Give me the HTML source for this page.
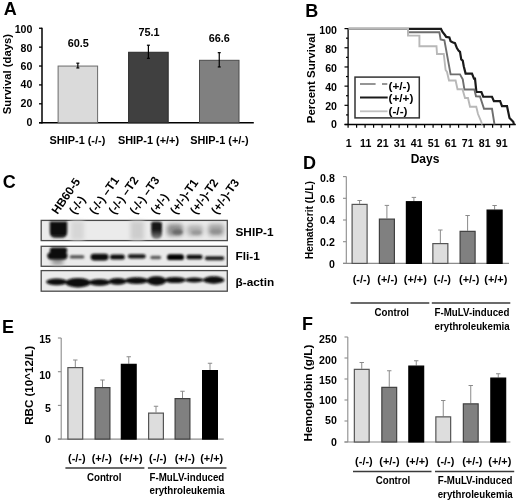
<!DOCTYPE html><html><head><meta charset="utf-8"><style>html,body{margin:0;padding:0;background:#fff;overflow:hidden;}svg{display:block;filter:blur(0.3px);}text{font-family:"Liberation Sans", sans-serif;}</style></head><body>
<svg width="520" height="504" viewBox="0 0 520 504">
<defs><filter id="b1" x="-50%" y="-50%" width="200%" height="200%"><feGaussianBlur stdDeviation="1.2"/></filter><filter id="b2" x="-50%" y="-50%" width="200%" height="200%"><feGaussianBlur stdDeviation="2.2"/></filter><filter id="b0" x="-50%" y="-50%" width="200%" height="200%"><feGaussianBlur stdDeviation="0.8"/></filter><linearGradient id="g6" x1="0" y1="0" x2="0" y2="1"><stop offset="0" stop-color="#101010"/><stop offset="0.5" stop-color="#1c1c1c"/><stop offset="1" stop-color="#8a8a8a"/></linearGradient><linearGradient id="g1" x1="0" y1="0" x2="0" y2="1"><stop offset="0" stop-color="#080808"/><stop offset="0.75" stop-color="#0a0a0a"/><stop offset="1" stop-color="#333"/></linearGradient></defs>
<rect width="520" height="504" fill="#fff"/>
<text x="3.80" y="14.70" font-size="18" text-anchor="start" font-weight="bold" fill="#000">A</text>
<line x1="42.00" y1="27.75" x2="42.00" y2="123.40" stroke="#000" stroke-width="1.5"/>
<line x1="39.00" y1="122.70" x2="253.80" y2="122.70" stroke="#000" stroke-width="1.5"/>
<line x1="39.00" y1="122.70" x2="42.00" y2="122.70" stroke="#000" stroke-width="1.3"/>
<text x="32.40" y="126.10" font-size="10.6" text-anchor="end" font-weight="bold" fill="#000">0</text>
<line x1="39.00" y1="103.81" x2="42.00" y2="103.81" stroke="#000" stroke-width="1.3"/>
<text x="32.40" y="107.20" font-size="10.6" text-anchor="end" font-weight="bold" fill="#000">20</text>
<line x1="39.00" y1="84.92" x2="42.00" y2="84.92" stroke="#000" stroke-width="1.3"/>
<text x="32.40" y="88.30" font-size="10.6" text-anchor="end" font-weight="bold" fill="#000">40</text>
<line x1="39.00" y1="66.03" x2="42.00" y2="66.03" stroke="#000" stroke-width="1.3"/>
<text x="32.40" y="69.70" font-size="10.6" text-anchor="end" font-weight="bold" fill="#000">60</text>
<line x1="39.00" y1="47.14" x2="42.00" y2="47.14" stroke="#000" stroke-width="1.3"/>
<text x="32.40" y="51.60" font-size="10.6" text-anchor="end" font-weight="bold" fill="#000">80</text>
<line x1="39.00" y1="28.25" x2="42.00" y2="28.25" stroke="#000" stroke-width="1.3"/>
<text x="32.40" y="32.80" font-size="10.6" text-anchor="end" font-weight="bold" fill="#000">100</text>
<rect x="58.10" y="66.06" width="39.50" height="56.64" fill="#dadada" stroke="#6a6a6a" stroke-width="1"/>
<line x1="77.85" y1="63.18" x2="77.85" y2="67.94" stroke="#000" stroke-width="1.2"/>
<line x1="76.35" y1="63.18" x2="79.35" y2="63.18" stroke="#000" stroke-width="1.2"/>
<line x1="76.35" y1="67.94" x2="79.35" y2="67.94" stroke="#000" stroke-width="1.2"/>
<rect x="128.60" y="52.27" width="39.60" height="70.43" fill="#404040" stroke="#2a2a2a" stroke-width="1"/>
<line x1="148.40" y1="45.22" x2="148.40" y2="58.31" stroke="#000" stroke-width="1.2"/>
<line x1="146.90" y1="45.22" x2="149.90" y2="45.22" stroke="#000" stroke-width="1.2"/>
<line x1="146.90" y1="58.31" x2="149.90" y2="58.31" stroke="#000" stroke-width="1.2"/>
<rect x="199.50" y="60.30" width="39.50" height="62.40" fill="#808080" stroke="#4a4a4a" stroke-width="1"/>
<line x1="219.25" y1="52.66" x2="219.25" y2="66.94" stroke="#000" stroke-width="1.2"/>
<line x1="217.75" y1="52.66" x2="220.75" y2="52.66" stroke="#000" stroke-width="1.2"/>
<line x1="217.75" y1="66.94" x2="220.75" y2="66.94" stroke="#000" stroke-width="1.2"/>
<text x="78.30" y="47.40" font-size="10.9" text-anchor="middle" font-weight="bold" fill="#000">60.5</text>
<text x="149.00" y="36.00" font-size="10.9" text-anchor="middle" font-weight="bold" fill="#000">75.1</text>
<text x="219.30" y="41.60" font-size="10.9" text-anchor="middle" font-weight="bold" fill="#000">66.6</text>
<text x="77.45" y="143.60" font-size="10.9" text-anchor="middle" font-weight="bold" fill="#000">SHIP-1 (-/-)</text>
<text x="148.50" y="143.60" font-size="10.9" text-anchor="middle" font-weight="bold" fill="#000">SHIP-1 (+/+)</text>
<text x="219.40" y="143.60" font-size="10.9" text-anchor="middle" font-weight="bold" fill="#000">SHIP-1 (+/-)</text>
<text x="0" y="0" font-size="11.3" text-anchor="middle" font-weight="bold" fill="#000" transform="translate(10.80 74.10) rotate(-90)">Survival (days)</text>
<text x="305.30" y="16.70" font-size="18" text-anchor="start" font-weight="bold" fill="#000">B</text>
<line x1="348.10" y1="28.10" x2="348.10" y2="125.10" stroke="#000" stroke-width="1.3"/>
<line x1="344.60" y1="124.50" x2="515.80" y2="124.50" stroke="#000" stroke-width="1.3"/>
<line x1="344.50" y1="124.50" x2="348.10" y2="124.50" stroke="#000" stroke-width="1.2"/>
<text x="337.00" y="128.00" font-size="10.6" text-anchor="end" font-weight="bold" fill="#000">0</text>
<line x1="346.00" y1="114.91" x2="348.10" y2="114.91" stroke="#000" stroke-width="1.2"/>
<line x1="344.50" y1="105.32" x2="348.10" y2="105.32" stroke="#000" stroke-width="1.2"/>
<text x="337.00" y="110.20" font-size="10.6" text-anchor="end" font-weight="bold" fill="#000">20</text>
<line x1="346.00" y1="95.73" x2="348.10" y2="95.73" stroke="#000" stroke-width="1.2"/>
<line x1="344.50" y1="86.14" x2="348.10" y2="86.14" stroke="#000" stroke-width="1.2"/>
<text x="337.00" y="90.90" font-size="10.6" text-anchor="end" font-weight="bold" fill="#000">40</text>
<line x1="346.00" y1="76.55" x2="348.10" y2="76.55" stroke="#000" stroke-width="1.2"/>
<line x1="344.50" y1="66.96" x2="348.10" y2="66.96" stroke="#000" stroke-width="1.2"/>
<text x="337.00" y="71.80" font-size="10.6" text-anchor="end" font-weight="bold" fill="#000">60</text>
<line x1="346.00" y1="57.37" x2="348.10" y2="57.37" stroke="#000" stroke-width="1.2"/>
<line x1="344.50" y1="47.78" x2="348.10" y2="47.78" stroke="#000" stroke-width="1.2"/>
<text x="337.00" y="52.50" font-size="10.6" text-anchor="end" font-weight="bold" fill="#000">80</text>
<line x1="346.00" y1="38.19" x2="348.10" y2="38.19" stroke="#000" stroke-width="1.2"/>
<line x1="344.50" y1="28.60" x2="348.10" y2="28.60" stroke="#000" stroke-width="1.2"/>
<text x="337.00" y="33.60" font-size="10.6" text-anchor="end" font-weight="bold" fill="#000">100</text>
<line x1="348.10" y1="124.50" x2="348.10" y2="127.70" stroke="#000" stroke-width="1.2"/>
<line x1="356.60" y1="124.50" x2="356.60" y2="127.70" stroke="#000" stroke-width="1.2"/>
<line x1="365.10" y1="124.50" x2="365.10" y2="127.70" stroke="#000" stroke-width="1.2"/>
<line x1="373.60" y1="124.50" x2="373.60" y2="127.70" stroke="#000" stroke-width="1.2"/>
<line x1="382.10" y1="124.50" x2="382.10" y2="127.70" stroke="#000" stroke-width="1.2"/>
<line x1="390.60" y1="124.50" x2="390.60" y2="127.70" stroke="#000" stroke-width="1.2"/>
<line x1="399.10" y1="124.50" x2="399.10" y2="127.70" stroke="#000" stroke-width="1.2"/>
<line x1="407.60" y1="124.50" x2="407.60" y2="127.70" stroke="#000" stroke-width="1.2"/>
<line x1="416.10" y1="124.50" x2="416.10" y2="127.70" stroke="#000" stroke-width="1.2"/>
<line x1="424.60" y1="124.50" x2="424.60" y2="127.70" stroke="#000" stroke-width="1.2"/>
<line x1="433.10" y1="124.50" x2="433.10" y2="127.70" stroke="#000" stroke-width="1.2"/>
<line x1="441.60" y1="124.50" x2="441.60" y2="127.70" stroke="#000" stroke-width="1.2"/>
<line x1="450.10" y1="124.50" x2="450.10" y2="127.70" stroke="#000" stroke-width="1.2"/>
<line x1="458.60" y1="124.50" x2="458.60" y2="127.70" stroke="#000" stroke-width="1.2"/>
<line x1="467.10" y1="124.50" x2="467.10" y2="127.70" stroke="#000" stroke-width="1.2"/>
<line x1="475.60" y1="124.50" x2="475.60" y2="127.70" stroke="#000" stroke-width="1.2"/>
<line x1="484.10" y1="124.50" x2="484.10" y2="127.70" stroke="#000" stroke-width="1.2"/>
<line x1="492.60" y1="124.50" x2="492.60" y2="127.70" stroke="#000" stroke-width="1.2"/>
<line x1="501.10" y1="124.50" x2="501.10" y2="127.70" stroke="#000" stroke-width="1.2"/>
<line x1="509.60" y1="124.50" x2="509.60" y2="127.70" stroke="#000" stroke-width="1.2"/>
<text x="348.70" y="147.00" font-size="10.6" text-anchor="middle" font-weight="bold" fill="#000">1</text>
<text x="365.70" y="147.00" font-size="10.6" text-anchor="middle" font-weight="bold" fill="#000">11</text>
<text x="382.70" y="147.00" font-size="10.6" text-anchor="middle" font-weight="bold" fill="#000">21</text>
<text x="399.70" y="147.00" font-size="10.6" text-anchor="middle" font-weight="bold" fill="#000">31</text>
<text x="416.70" y="147.00" font-size="10.6" text-anchor="middle" font-weight="bold" fill="#000">41</text>
<text x="433.70" y="147.00" font-size="10.6" text-anchor="middle" font-weight="bold" fill="#000">51</text>
<text x="450.70" y="147.00" font-size="10.6" text-anchor="middle" font-weight="bold" fill="#000">61</text>
<text x="467.70" y="147.00" font-size="10.6" text-anchor="middle" font-weight="bold" fill="#000">71</text>
<text x="484.70" y="147.00" font-size="10.6" text-anchor="middle" font-weight="bold" fill="#000">81</text>
<text x="501.70" y="147.00" font-size="10.6" text-anchor="middle" font-weight="bold" fill="#000">91</text>
<text x="425.00" y="162.80" font-size="12.0" text-anchor="middle" font-weight="bold" fill="#000">Days</text>
<text x="0" y="0" font-size="11.5" text-anchor="middle" font-weight="bold" fill="#000" transform="translate(315.00 78.20) rotate(-90)">Percent Survival</text>
<polyline points="348.60,28.90 441.00,28.90 442.50,31.90 444.75,34.75 446.25,36.90 449.40,37.50 450.60,41.25 452.50,42.25 455.00,43.10 456.90,48.10 458.50,50.60 460.00,51.90 461.25,59.40 462.75,60.60 463.75,66.25 465.60,73.60 472.00,73.60 474.00,78.60 475.00,78.60 476.40,92.00 481.40,92.00 483.25,96.75 492.00,96.75 493.90,101.10 500.10,101.10 502.00,106.10 507.00,106.10 509.50,118.00 513.25,121.75 514.00,124.50" fill="none" stroke="#1a1a1a" stroke-width="2.2" stroke-linejoin="miter"/>
<polyline points="348.60,28.90 408.00,28.90 408.00,32.25 439.40,32.25 440.60,39.40 444.40,40.25 450.60,74.40 460.00,74.40 462.75,79.25 464.40,89.50 474.40,89.50 476.00,96.25 480.00,96.50 484.00,108.80 492.00,108.80 494.50,124.50" fill="none" stroke="#6e6e6e" stroke-width="1.9" stroke-linejoin="miter"/>
<polyline points="348.60,28.90 408.00,28.90 408.00,35.60 419.40,35.60 419.40,46.25 436.50,46.25 437.00,54.00 443.75,54.00 445.60,70.00 447.00,72.00 449.00,80.50 455.60,80.50 457.50,89.25 462.50,89.25 465.00,98.00 468.00,98.00 470.00,106.75 476.25,106.75 478.00,114.00 481.25,121.75 482.00,124.50" fill="none" stroke="#b8b8b8" stroke-width="1.9" stroke-linejoin="miter"/>
<rect x="355.00" y="77.10" width="64.30" height="40.80" fill="#fff" stroke="#333" stroke-width="1.5"/>
<line x1="360.00" y1="84.00" x2="375.60" y2="84.00" stroke="#8a8a8a" stroke-width="1.8"/>
<line x1="382.00" y1="84.00" x2="387.30" y2="84.00" stroke="#8a8a8a" stroke-width="1.8"/>
<line x1="360.00" y1="97.50" x2="387.70" y2="97.50" stroke="#1a1a1a" stroke-width="2.0"/>
<line x1="360.00" y1="111.30" x2="387.50" y2="111.30" stroke="#c0c0c0" stroke-width="1.8"/>
<text x="388.50" y="89.50" font-size="11.8" text-anchor="start" font-weight="bold" fill="#000">(+/-)</text>
<text x="388.50" y="101.60" font-size="11.8" text-anchor="start" font-weight="bold" fill="#000">(+/+)</text>
<text x="388.50" y="115.20" font-size="11.8" text-anchor="start" font-weight="bold" fill="#000">(-/-)</text>
<text x="2.70" y="187.60" font-size="18" text-anchor="start" font-weight="bold" fill="#000">C</text>
<rect x="41.20" y="220.40" width="186.10" height="20.20" fill="#ebebeb" stroke="#4a4a4a" stroke-width="1.3"/>
<rect x="41.20" y="246.30" width="186.10" height="20.00" fill="#ebebeb" stroke="#4a4a4a" stroke-width="1.3"/>
<rect x="41.20" y="270.60" width="186.10" height="20.60" fill="#ebebeb" stroke="#4a4a4a" stroke-width="1.3"/>
<g filter="url(#b2)">
<rect x="71" y="221" width="13" height="19" fill="#d6d6d6"/>
<rect x="130.5" y="221" width="13.5" height="19" fill="#cdcdcd"/>
<rect x="167" y="224" width="16" height="12" rx="4" fill="#8e8e8e"/>
<rect x="187" y="225" width="16" height="11" rx="4" fill="#b2b2b2"/>
<rect x="208" y="224" width="16" height="12" rx="4" fill="#a6a6a6"/>
</g>
<g filter="url(#b1)">
<ellipse cx="177.5" cy="232" rx="5" ry="2.6" fill="#6a6a6a"/>
<ellipse cx="196.5" cy="232.5" rx="5" ry="2.2" fill="#979797"/>
<ellipse cx="216" cy="231.5" rx="5.5" ry="2.6" fill="#909090"/>
</g>
<g filter="url(#b0)">
<path d="M49.8,221.4 H67.2 V232 Q67.2,238 61,238 H56 Q49.8,238 49.8,232 Z" fill="url(#g1)"/>
<path d="M151.2,223 Q151.2,221.8 155,221.8 H158.5 Q162,221.8 162,224 V233 Q162,239 156.5,239 Q151.2,239 151.2,233 Z" fill="url(#g6)"/>
</g>
<g filter="url(#b2)"><rect x="52" y="256" width="11" height="9" fill="#9a9a9a"/></g>
<g filter="url(#b0)">
<rect x="49.80" y="247.60" width="17.40" height="5.60" rx="2.80" fill="#0a0a0a"/>
<rect x="47.30" y="252.20" width="20.20" height="7.20" rx="3.60" fill="#0a0a0a"/>
<rect x="69.70" y="255.20" width="14.70" height="3.40" rx="1.70" fill="#505050"/>
<rect x="90.60" y="253.80" width="17.90" height="6.60" rx="3.30" fill="#080808"/>
<rect x="110.00" y="254.50" width="14.80" height="5.00" rx="2.50" fill="#111"/>
<rect x="127.90" y="254.20" width="17.80" height="4.30" rx="2.15" fill="#141414"/>
<rect x="150.30" y="255.80" width="10.80" height="3.40" rx="1.70" fill="#5a5a5a"/>
<rect x="167.00" y="254.20" width="17.00" height="5.90" rx="2.95" fill="#060606"/>
<rect x="186.30" y="254.80" width="16.30" height="4.50" rx="2.25" fill="#111"/>
<rect x="204.90" y="256.30" width="19.30" height="3.90" rx="1.95" fill="#1a1a1a"/>
<ellipse cx="56.7" cy="281.9" rx="10.6" ry="3.4" fill="#0a0a0a"/>
<ellipse cx="78.0" cy="282.7" rx="12.4" ry="4.8" fill="#0a0a0a"/>
<ellipse cx="99.5" cy="282.4" rx="10.8" ry="3.4" fill="#0a0a0a"/>
<ellipse cx="117.6" cy="281.4" rx="9.0" ry="3.3" fill="#0a0a0a"/>
<ellipse cx="136.6" cy="280.7" rx="11.8" ry="3.4" fill="#0a0a0a"/>
<ellipse cx="156.5" cy="280.8" rx="9.8" ry="4.6" fill="#0a0a0a"/>
<ellipse cx="175.1" cy="280.0" rx="10.6" ry="3.1" fill="#0a0a0a"/>
<ellipse cx="194.2" cy="280.0" rx="9.2" ry="2.4" fill="#0a0a0a"/>
<ellipse cx="213.7" cy="280.0" rx="10.8" ry="3.7" fill="#0a0a0a"/>
</g>
<text x="0" y="0" font-size="11.8" text-anchor="start" font-weight="bold" fill="#000" transform="translate(57.50 215.00) rotate(-55)">HB60-5</text>
<text x="0" y="0" font-size="11.8" text-anchor="start" font-weight="bold" fill="#000" transform="translate(75.00 215.00) rotate(-55)">(-/-)</text>
<text x="0" y="0" font-size="11.8" text-anchor="start" font-weight="bold" fill="#000" transform="translate(95.00 215.00) rotate(-55)">(-/-) –T1</text>
<text x="0" y="0" font-size="11.8" text-anchor="start" font-weight="bold" fill="#000" transform="translate(114.50 215.00) rotate(-55)">(-/-) –T2</text>
<text x="0" y="0" font-size="11.8" text-anchor="start" font-weight="bold" fill="#000" transform="translate(135.50 215.00) rotate(-55)">(-/-) –T3</text>
<text x="0" y="0" font-size="11.8" text-anchor="start" font-weight="bold" fill="#000" transform="translate(156.50 215.00) rotate(-55)">(+/-)</text>
<text x="0" y="0" font-size="11.8" text-anchor="start" font-weight="bold" fill="#000" transform="translate(176.00 215.00) rotate(-55)">(+/-)-T1</text>
<text x="0" y="0" font-size="11.8" text-anchor="start" font-weight="bold" fill="#000" transform="translate(196.00 215.00) rotate(-55)">(+/-)-T2</text>
<text x="0" y="0" font-size="11.8" text-anchor="start" font-weight="bold" fill="#000" transform="translate(217.00 215.00) rotate(-55)">(+/-)-T3</text>
<text x="235.50" y="235.50" font-size="11.8" text-anchor="start" font-weight="bold" fill="#000">SHIP-1</text>
<text x="235.50" y="260.00" font-size="11.8" text-anchor="start" font-weight="bold" fill="#000">Fli-1</text>
<text x="235.50" y="285.50" font-size="11.8" text-anchor="start" font-weight="bold" fill="#000">β-actin</text>
<text x="302.90" y="169.40" font-size="18" text-anchor="start" font-weight="bold" fill="#000">D</text>
<line x1="346.30" y1="176.60" x2="346.30" y2="263.40" stroke="#8c8c8c" stroke-width="1.1"/>
<line x1="343.00" y1="263.40" x2="509.00" y2="263.40" stroke="#8c8c8c" stroke-width="1.1"/>
<line x1="343.00" y1="263.40" x2="346.30" y2="263.40" stroke="#8c8c8c" stroke-width="1.1"/>
<text x="334.80" y="267.55" font-size="10.6" text-anchor="end" font-weight="bold" fill="#000">0</text>
<line x1="343.00" y1="241.70" x2="346.30" y2="241.70" stroke="#8c8c8c" stroke-width="1.1"/>
<text x="334.80" y="246.20" font-size="10.6" text-anchor="end" font-weight="bold" fill="#000">0.2</text>
<line x1="343.00" y1="220.00" x2="346.30" y2="220.00" stroke="#8c8c8c" stroke-width="1.1"/>
<text x="334.80" y="224.40" font-size="10.6" text-anchor="end" font-weight="bold" fill="#000">0.4</text>
<line x1="343.00" y1="198.30" x2="346.30" y2="198.30" stroke="#8c8c8c" stroke-width="1.1"/>
<text x="334.80" y="202.60" font-size="10.6" text-anchor="end" font-weight="bold" fill="#000">0.6</text>
<line x1="343.00" y1="176.60" x2="346.30" y2="176.60" stroke="#8c8c8c" stroke-width="1.1"/>
<text x="334.80" y="181.70" font-size="10.6" text-anchor="end" font-weight="bold" fill="#000">0.8</text>
<line x1="359.60" y1="200.50" x2="359.60" y2="203.80" stroke="#8a8a8a" stroke-width="1.0"/>
<line x1="357.40" y1="200.50" x2="361.80" y2="200.50" stroke="#8a8a8a" stroke-width="1.0"/>
<rect x="352.10" y="204.40" width="15.00" height="59.00" fill="#dddddd" stroke="#555555" stroke-width="1.2"/>
<line x1="386.90" y1="205.40" x2="386.90" y2="218.50" stroke="#8a8a8a" stroke-width="1.0"/>
<line x1="384.70" y1="205.40" x2="389.10" y2="205.40" stroke="#8a8a8a" stroke-width="1.0"/>
<rect x="379.40" y="219.10" width="15.00" height="44.30" fill="#808080" stroke="#404040" stroke-width="1.2"/>
<line x1="413.90" y1="197.40" x2="413.90" y2="201.10" stroke="#8a8a8a" stroke-width="1.0"/>
<line x1="411.70" y1="197.40" x2="416.10" y2="197.40" stroke="#8a8a8a" stroke-width="1.0"/>
<rect x="406.40" y="201.70" width="15.00" height="61.70" fill="#000000" stroke="#000000" stroke-width="1.2"/>
<line x1="440.35" y1="230.00" x2="440.35" y2="243.00" stroke="#8a8a8a" stroke-width="1.0"/>
<line x1="438.15" y1="230.00" x2="442.55" y2="230.00" stroke="#8a8a8a" stroke-width="1.0"/>
<rect x="432.85" y="243.60" width="15.00" height="19.80" fill="#dddddd" stroke="#555555" stroke-width="1.2"/>
<line x1="467.60" y1="215.50" x2="467.60" y2="230.75" stroke="#8a8a8a" stroke-width="1.0"/>
<line x1="465.40" y1="215.50" x2="469.80" y2="215.50" stroke="#8a8a8a" stroke-width="1.0"/>
<rect x="460.10" y="231.35" width="15.00" height="32.05" fill="#808080" stroke="#404040" stroke-width="1.2"/>
<line x1="494.60" y1="205.50" x2="494.60" y2="209.50" stroke="#8a8a8a" stroke-width="1.0"/>
<line x1="492.40" y1="205.50" x2="496.80" y2="205.50" stroke="#8a8a8a" stroke-width="1.0"/>
<rect x="487.10" y="210.10" width="15.00" height="53.30" fill="#000000" stroke="#000000" stroke-width="1.2"/>
<text x="0" y="0" font-size="11.2" text-anchor="middle" font-weight="bold" fill="#000" transform="translate(312.90 220.20) rotate(-90) scale(0.91 1)">Hematocrit (L/L)</text>
<text x="0" y="0" font-size="11.5" text-anchor="middle" font-weight="bold" fill="#000" transform="translate(361.50 283.30) scale(0.95 1)">(-/-)</text>
<text x="0" y="0" font-size="11.5" text-anchor="middle" font-weight="bold" fill="#000" transform="translate(387.50 283.30) scale(0.95 1)">(+/-)</text>
<text x="0" y="0" font-size="11.5" text-anchor="middle" font-weight="bold" fill="#000" transform="translate(415.30 283.30) scale(0.95 1)">(+/+)</text>
<text x="0" y="0" font-size="11.5" text-anchor="middle" font-weight="bold" fill="#000" transform="translate(442.20 283.30) scale(0.95 1)">(-/-)</text>
<text x="0" y="0" font-size="11.5" text-anchor="middle" font-weight="bold" fill="#000" transform="translate(469.20 283.30) scale(0.95 1)">(+/-)</text>
<text x="0" y="0" font-size="11.5" text-anchor="middle" font-weight="bold" fill="#000" transform="translate(495.80 283.30) scale(0.95 1)">(+/+)</text>
<line x1="350.60" y1="303.00" x2="429.30" y2="303.00" stroke="#3a3a3a" stroke-width="1.3"/>
<line x1="431.80" y1="303.00" x2="510.30" y2="303.00" stroke="#3a3a3a" stroke-width="1.3"/>
<text x="0" y="0" font-size="10.8" text-anchor="middle" font-weight="bold" fill="#000" transform="translate(391.80 316.40) scale(0.9 1)">Control</text>
<text x="0" y="0" font-size="10.8" text-anchor="start" font-weight="bold" fill="#000" transform="translate(434.60 316.40) scale(0.9 1)">F-MuLV-induced</text>
<text x="0" y="0" font-size="10.8" text-anchor="start" font-weight="bold" fill="#000" transform="translate(434.60 330.20) scale(0.9 1)">erythroleukemia</text>
<text x="1.90" y="333.20" font-size="18" text-anchor="start" font-weight="bold" fill="#000">E</text>
<line x1="61.20" y1="338.00" x2="61.20" y2="439.10" stroke="#8c8c8c" stroke-width="1.1"/>
<line x1="57.90" y1="439.10" x2="223.75" y2="439.10" stroke="#8c8c8c" stroke-width="1.1"/>
<line x1="57.90" y1="439.10" x2="61.20" y2="439.10" stroke="#8c8c8c" stroke-width="1.1"/>
<text x="51.00" y="443.00" font-size="10.6" text-anchor="end" font-weight="bold" fill="#000">0</text>
<line x1="57.90" y1="405.40" x2="61.20" y2="405.40" stroke="#8c8c8c" stroke-width="1.1"/>
<text x="51.00" y="412.40" font-size="10.6" text-anchor="end" font-weight="bold" fill="#000">5</text>
<line x1="57.90" y1="371.70" x2="61.20" y2="371.70" stroke="#8c8c8c" stroke-width="1.1"/>
<text x="51.00" y="378.60" font-size="10.6" text-anchor="end" font-weight="bold" fill="#000">10</text>
<line x1="57.90" y1="338.00" x2="61.20" y2="338.00" stroke="#8c8c8c" stroke-width="1.1"/>
<text x="51.00" y="343.10" font-size="10.6" text-anchor="end" font-weight="bold" fill="#000">15</text>
<line x1="75.30" y1="360.00" x2="75.30" y2="367.00" stroke="#8a8a8a" stroke-width="1.0"/>
<line x1="73.10" y1="360.00" x2="77.50" y2="360.00" stroke="#8a8a8a" stroke-width="1.0"/>
<rect x="67.90" y="367.60" width="14.80" height="71.50" fill="#dddddd" stroke="#555555" stroke-width="1.2"/>
<line x1="102.50" y1="380.00" x2="102.50" y2="387.00" stroke="#8a8a8a" stroke-width="1.0"/>
<line x1="100.30" y1="380.00" x2="104.70" y2="380.00" stroke="#8a8a8a" stroke-width="1.0"/>
<rect x="95.10" y="387.60" width="14.80" height="51.50" fill="#808080" stroke="#404040" stroke-width="1.2"/>
<line x1="128.75" y1="356.75" x2="128.75" y2="363.75" stroke="#8a8a8a" stroke-width="1.0"/>
<line x1="126.55" y1="356.75" x2="130.95" y2="356.75" stroke="#8a8a8a" stroke-width="1.0"/>
<rect x="121.35" y="364.35" width="14.80" height="74.75" fill="#000000" stroke="#000000" stroke-width="1.2"/>
<line x1="156.00" y1="406.25" x2="156.00" y2="412.50" stroke="#8a8a8a" stroke-width="1.0"/>
<line x1="153.80" y1="406.25" x2="158.20" y2="406.25" stroke="#8a8a8a" stroke-width="1.0"/>
<rect x="148.60" y="413.10" width="14.80" height="26.00" fill="#dddddd" stroke="#555555" stroke-width="1.2"/>
<line x1="182.50" y1="391.25" x2="182.50" y2="398.00" stroke="#8a8a8a" stroke-width="1.0"/>
<line x1="180.30" y1="391.25" x2="184.70" y2="391.25" stroke="#8a8a8a" stroke-width="1.0"/>
<rect x="175.10" y="398.60" width="14.80" height="40.50" fill="#808080" stroke="#404040" stroke-width="1.2"/>
<line x1="210.00" y1="363.25" x2="210.00" y2="370.00" stroke="#8a8a8a" stroke-width="1.0"/>
<line x1="207.80" y1="363.25" x2="212.20" y2="363.25" stroke="#8a8a8a" stroke-width="1.0"/>
<rect x="202.60" y="370.60" width="14.80" height="68.50" fill="#000000" stroke="#000000" stroke-width="1.2"/>
<text x="0" y="0" font-size="11.6" text-anchor="middle" font-weight="bold" fill="#000" transform="translate(33.40 385.40) rotate(-90)">RBC (10^12/L)</text>
<text x="0" y="0" font-size="11.5" text-anchor="middle" font-weight="bold" fill="#000" transform="translate(76.80 461.60) scale(0.95 1)">(-/-)</text>
<text x="0" y="0" font-size="11.5" text-anchor="middle" font-weight="bold" fill="#000" transform="translate(101.80 461.60) scale(0.95 1)">(+/-)</text>
<text x="0" y="0" font-size="11.5" text-anchor="middle" font-weight="bold" fill="#000" transform="translate(131.00 461.60) scale(0.95 1)">(+/+)</text>
<text x="0" y="0" font-size="11.5" text-anchor="middle" font-weight="bold" fill="#000" transform="translate(157.90 461.60) scale(0.95 1)">(-/-)</text>
<text x="0" y="0" font-size="11.5" text-anchor="middle" font-weight="bold" fill="#000" transform="translate(184.80 461.60) scale(0.95 1)">(+/-)</text>
<text x="0" y="0" font-size="11.5" text-anchor="middle" font-weight="bold" fill="#000" transform="translate(211.70 461.60) scale(0.95 1)">(+/+)</text>
<line x1="65.40" y1="468.00" x2="144.40" y2="468.00" stroke="#3a3a3a" stroke-width="1.3"/>
<line x1="147.90" y1="468.00" x2="226.50" y2="468.00" stroke="#3a3a3a" stroke-width="1.3"/>
<text x="0" y="0" font-size="10.8" text-anchor="middle" font-weight="bold" fill="#000" transform="translate(104.20 480.60) scale(0.9 1)">Control</text>
<text x="0" y="0" font-size="10.8" text-anchor="start" font-weight="bold" fill="#000" transform="translate(149.50 480.60) scale(0.9 1)">F-MuLV-induced</text>
<text x="0" y="0" font-size="10.8" text-anchor="start" font-weight="bold" fill="#000" transform="translate(149.50 493.80) scale(0.9 1)">erythroleukemia</text>
<text x="302.00" y="330.30" font-size="18" text-anchor="start" font-weight="bold" fill="#000">F</text>
<line x1="347.80" y1="337.00" x2="347.80" y2="442.00" stroke="#8c8c8c" stroke-width="1.1"/>
<line x1="344.50" y1="442.00" x2="510.40" y2="442.00" stroke="#8c8c8c" stroke-width="1.1"/>
<line x1="344.50" y1="442.00" x2="347.80" y2="442.00" stroke="#8c8c8c" stroke-width="1.1"/>
<text x="336.80" y="445.70" font-size="10.6" text-anchor="end" font-weight="bold" fill="#000">0</text>
<line x1="344.50" y1="421.00" x2="347.80" y2="421.00" stroke="#8c8c8c" stroke-width="1.1"/>
<text x="336.80" y="424.30" font-size="10.6" text-anchor="end" font-weight="bold" fill="#000">50</text>
<line x1="344.50" y1="400.00" x2="347.80" y2="400.00" stroke="#8c8c8c" stroke-width="1.1"/>
<text x="336.80" y="404.00" font-size="10.6" text-anchor="end" font-weight="bold" fill="#000">100</text>
<line x1="344.50" y1="379.00" x2="347.80" y2="379.00" stroke="#8c8c8c" stroke-width="1.1"/>
<text x="336.80" y="383.80" font-size="10.6" text-anchor="end" font-weight="bold" fill="#000">150</text>
<line x1="344.50" y1="358.00" x2="347.80" y2="358.00" stroke="#8c8c8c" stroke-width="1.1"/>
<text x="336.80" y="363.60" font-size="10.6" text-anchor="end" font-weight="bold" fill="#000">200</text>
<line x1="344.50" y1="337.00" x2="347.80" y2="337.00" stroke="#8c8c8c" stroke-width="1.1"/>
<text x="336.80" y="343.30" font-size="10.6" text-anchor="end" font-weight="bold" fill="#000">250</text>
<line x1="361.75" y1="362.50" x2="361.75" y2="368.75" stroke="#8a8a8a" stroke-width="1.0"/>
<line x1="359.55" y1="362.50" x2="363.95" y2="362.50" stroke="#8a8a8a" stroke-width="1.0"/>
<rect x="354.35" y="369.35" width="14.80" height="72.65" fill="#dddddd" stroke="#555555" stroke-width="1.2"/>
<line x1="389.25" y1="370.75" x2="389.25" y2="386.75" stroke="#8a8a8a" stroke-width="1.0"/>
<line x1="387.05" y1="370.75" x2="391.45" y2="370.75" stroke="#8a8a8a" stroke-width="1.0"/>
<rect x="381.85" y="387.35" width="14.80" height="54.65" fill="#808080" stroke="#404040" stroke-width="1.2"/>
<line x1="416.25" y1="360.75" x2="416.25" y2="365.50" stroke="#8a8a8a" stroke-width="1.0"/>
<line x1="414.05" y1="360.75" x2="418.45" y2="360.75" stroke="#8a8a8a" stroke-width="1.0"/>
<rect x="408.85" y="366.10" width="14.80" height="75.90" fill="#000000" stroke="#000000" stroke-width="1.2"/>
<line x1="443.25" y1="400.50" x2="443.25" y2="416.25" stroke="#8a8a8a" stroke-width="1.0"/>
<line x1="441.05" y1="400.50" x2="445.45" y2="400.50" stroke="#8a8a8a" stroke-width="1.0"/>
<rect x="435.85" y="416.85" width="14.80" height="25.15" fill="#dddddd" stroke="#555555" stroke-width="1.2"/>
<line x1="470.75" y1="385.50" x2="470.75" y2="403.25" stroke="#8a8a8a" stroke-width="1.0"/>
<line x1="468.55" y1="385.50" x2="472.95" y2="385.50" stroke="#8a8a8a" stroke-width="1.0"/>
<rect x="463.35" y="403.85" width="14.80" height="38.15" fill="#808080" stroke="#404040" stroke-width="1.2"/>
<line x1="498.25" y1="373.75" x2="498.25" y2="377.50" stroke="#8a8a8a" stroke-width="1.0"/>
<line x1="496.05" y1="373.75" x2="500.45" y2="373.75" stroke="#8a8a8a" stroke-width="1.0"/>
<rect x="490.85" y="378.10" width="14.80" height="63.90" fill="#000000" stroke="#000000" stroke-width="1.2"/>
<text x="0" y="0" font-size="11.8" text-anchor="middle" font-weight="bold" fill="#000" transform="translate(311.60 393.10) rotate(-90)">Hemoglobin (g/L)</text>
<text x="0" y="0" font-size="11.5" text-anchor="middle" font-weight="bold" fill="#000" transform="translate(363.90 465.40) scale(0.95 1)">(-/-)</text>
<text x="0" y="0" font-size="11.5" text-anchor="middle" font-weight="bold" fill="#000" transform="translate(389.40 465.40) scale(0.95 1)">(+/-)</text>
<text x="0" y="0" font-size="11.5" text-anchor="middle" font-weight="bold" fill="#000" transform="translate(417.20 465.40) scale(0.95 1)">(+/+)</text>
<text x="0" y="0" font-size="11.5" text-anchor="middle" font-weight="bold" fill="#000" transform="translate(445.60 465.40) scale(0.95 1)">(-/-)</text>
<text x="0" y="0" font-size="11.5" text-anchor="middle" font-weight="bold" fill="#000" transform="translate(472.30 465.40) scale(0.95 1)">(+/-)</text>
<text x="0" y="0" font-size="11.5" text-anchor="middle" font-weight="bold" fill="#000" transform="translate(499.80 465.40) scale(0.95 1)">(+/+)</text>
<line x1="353.00" y1="471.50" x2="431.50" y2="471.50" stroke="#3a3a3a" stroke-width="1.3"/>
<line x1="435.00" y1="471.50" x2="514.20" y2="471.50" stroke="#3a3a3a" stroke-width="1.3"/>
<text x="0" y="0" font-size="10.8" text-anchor="middle" font-weight="bold" fill="#000" transform="translate(393.00 484.20) scale(0.9 1)">Control</text>
<text x="0" y="0" font-size="10.8" text-anchor="start" font-weight="bold" fill="#000" transform="translate(437.70 484.20) scale(0.9 1)">F-MuLV-induced</text>
<text x="0" y="0" font-size="10.8" text-anchor="start" font-weight="bold" fill="#000" transform="translate(437.70 498.40) scale(0.9 1)">erythroleukemia</text>
</svg></body></html>
